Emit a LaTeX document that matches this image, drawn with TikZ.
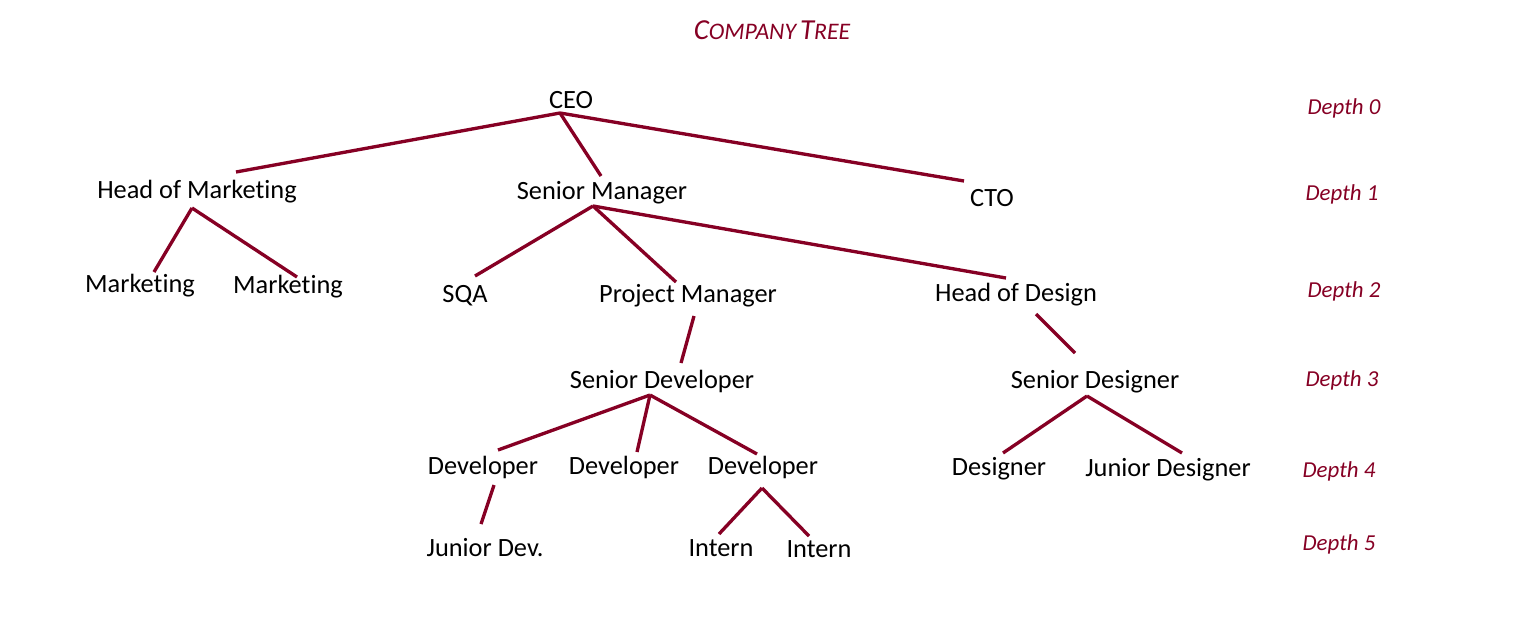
\documentclass[tikz,border=0pt]{standalone}
\usepackage{fontspec}
\setmainfont{Carlito}[Ligatures={NoCommon,NoContextual}]
\usepackage{tikz}
\definecolor{treered}{RGB}{134,0,36}
\tikzset{
    x=0.02cm, y=-0.02cm, % one unit is one pixel of the sketch, y runs downwards
    every node/.style={inner sep=0pt, text height=0.85em, text depth=0.15em}, % same box for every label
    }

\begin{document}
\begin{tikzpicture}[member/.style={font=\fontsize{15}{18}\selectfont}, depthlabel/.style={font=\fontsize{13}{16}\selectfont\itshape, text=treered}, link/.style={draw=treered, line width=1.9pt}]
\useasboundingbox (0,0) rectangle (1537,626);
\node[anchor=base, text=treered, font=\itshape] (title) at (772,39) {{\fontsize{16.5}{20}\selectfont C}{\fontsize{13.5}{16}\selectfont OMPANY} {\fontsize{16.5}{20}\selectfont T}{\fontsize{13.5}{16}\selectfont REE}};
\node[member] (ceo) at (571,102) {CEO};
\node[member] (hom) at (197,192) {Head of Marketing};
\node[member] (sm) at (602,193) {Senior Manager};
\node[member] (cto) at (992,200) {CTO};
\node[member] (mkA) at (140,286) {Marketing};
\node[member] (mkB) at (288,287) {Marketing};
\node[member] (sqa) at (465,296) {SQA};
\node[member] (pm) at (688,296) {Project Manager};
\node[member] (hod) at (1016,295) {Head of Design};
\node[member] (sdev) at (662,382) {Senior Developer};
\node[member] (sdes) at (1095,382) {Senior Designer};
\node[member] (devA) at (483,468) {Developer};
\node[member] (devB) at (624,468) {Developer};
\node[member] (devC) at (763,468) {Developer};
\node[member] (des) at (999,469) {Designer};
\node[member] (jdes) at (1168,470) {Junior Designer};
\node[member] (jdev) at (485,550) {Junior Dev.};
\node[member] (intA) at (721,550) {Intern};
\node[member] (intB) at (819,551) {Intern};

\node[depthlabel] (d0) at (1344,108) {Depth 0};
\node[depthlabel] (d1) at (1342,194) {Depth 1};
\node[depthlabel] (d2) at (1344,291) {Depth 2};
\node[depthlabel] (d3) at (1342,380) {Depth 3};
\node[depthlabel] (d4) at (1339,471) {Depth 4};
\node[depthlabel] (d5) at (1339,544) {Depth 5};

\path[link] ([shift={(-11,11)}]ceo.center) edge ([shift={(39,-20)}]hom.center)
([shift={(-11,11)}]ceo.center) edge ([shift={(-1,-17)}]sm.center)
([shift={(-11,11)}]ceo.center) edge ([shift={(-28,-19)}]cto.center)
([shift={(-5,16)}]hom.center) edge ([shift={(14,-14)}]mkA.center)
([shift={(-5,16)}]hom.center) edge ([shift={(9,-10)}]mkB.center)
([shift={(-9,13)}]sm.center) edge ([shift={(10,-20)}]sqa.center)
([shift={(-9,13)}]sm.center) edge ([shift={(-12,-14)}]pm.center)
([shift={(-9,13)}]sm.center) edge ([shift={(-10,-17)}]hod.center)
([shift={(6,20)}]pm.center) edge ([shift={(19,-19)}]sdev.center)
([shift={(20,19)}]hod.center) edge ([shift={(-20,-29)}]sdes.center)
([shift={(-12,13)}]sdev.center) edge ([shift={(15,-18)}]devA.center)
([shift={(-12,13)}]sdev.center) edge ([shift={(13,-16)}]devB.center)
([shift={(-12,13)}]sdev.center) edge ([shift={(-6,-14)}]devC.center)
([shift={(11,17)}]devA.center) edge ([shift={(-4,-26)}]jdev.center)
([shift={(-1,20)}]devC.center) edge ([shift={(-2,-16)}]intA.center)
([shift={(-1,20)}]devC.center) edge ([shift={(-10,-15)}]intB.center)
([shift={(-8,14)}]sdes.center) edge ([shift={(4,-16)}]des.center)
([shift={(-8,14)}]sdes.center) edge ([shift={(14,-17)}]jdes.center);
\end{tikzpicture}
\end{document}
